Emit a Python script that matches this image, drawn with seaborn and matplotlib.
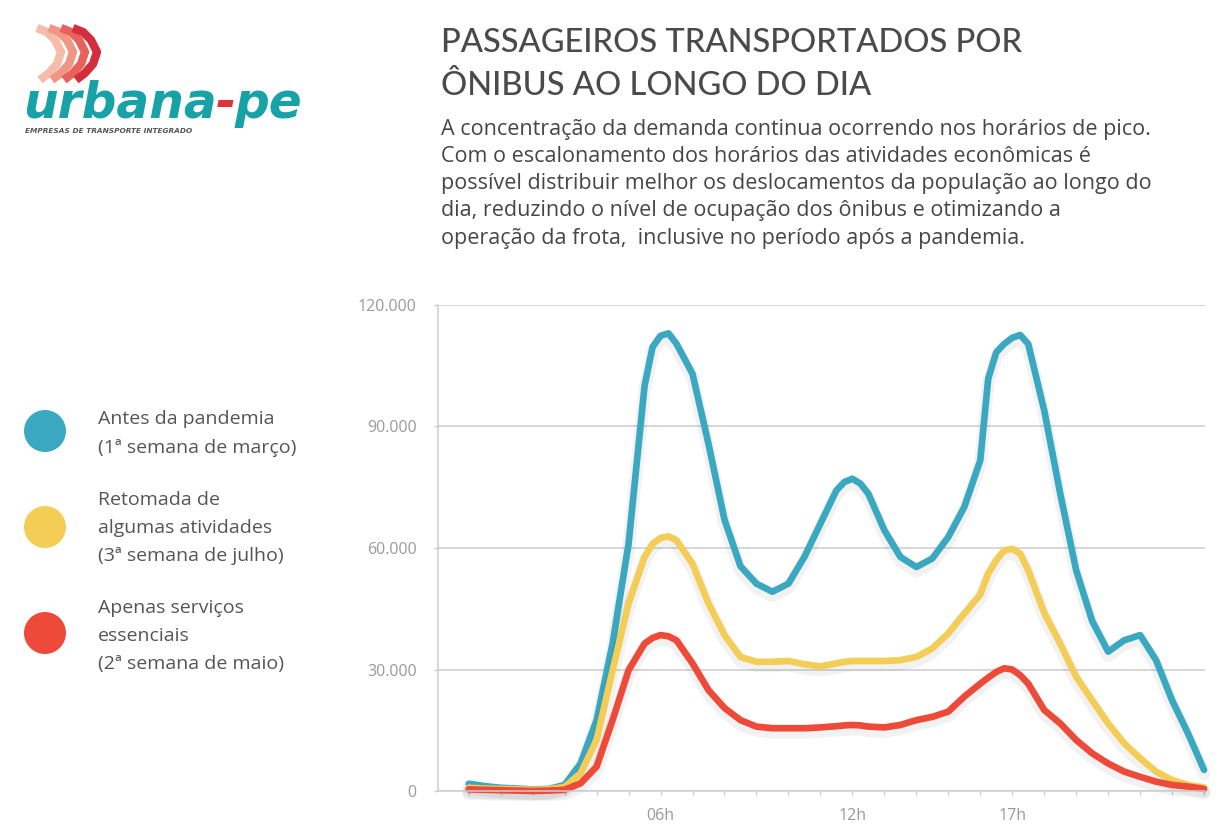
import numpy as np
import pandas as pd
import matplotlib
matplotlib.use("Agg")
import matplotlib.pyplot as plt
import seaborn as sns
from matplotlib.patches import Circle
from matplotlib.ticker import FuncFormatter
import matplotlib.patheffects as pe

# ---------------- data ----------------
hours = [0, 0.5, 1, 1.5, 2, 2.5, 3, 3.5, 4, 4.5, 5, 5.5,
         5.75, 6, 6.25, 6.5,
         7, 7.5, 8, 8.5, 9, 9.5, 10, 10.5, 11, 11.5,
         11.75, 12, 12.25,
         12.5, 13, 13.5, 14, 14.5, 15, 15.5, 16,
         16.25, 16.5, 16.75, 17, 17.25, 17.5,
         18, 18.5, 19, 19.5, 20, 20.5, 21, 21.5, 22, 22.5, 23]

antes = [1800, 1200, 800, 600, 400, 500, 1500, 6800, 17500, 36400, 61000, 100000,
         109600, 112400, 113000, 110400,
         103000, 85700, 67000, 55500, 51200, 49200, 51200, 57800, 66000, 74200,
         76300, 77100, 75900,
         73400, 64400, 57800, 55300, 57400, 62700, 70100, 81600,
         101800, 108300, 110400, 111900, 112600, 110400,
         94000, 73500, 54500, 42000, 34400, 37200, 38500, 32300, 22400, 14200, 5200]

retomada = [800, 600, 500, 400, 300, 400, 1000, 4400, 12600, 29800, 46300, 57800,
            61000, 62500, 62900, 61900,
            56100, 46300, 38500, 33100, 31900, 31900, 32100, 31300, 30800, 31500,
            31900, 32100, 32100,
            32100, 32100, 32300, 33100, 35200, 38900, 43800, 48500,
            53700, 57000, 59400, 59800, 58600, 54500,
            44000, 36400, 28200, 22400, 16700, 11800, 8100, 4800, 2700, 1500, 900]

essenciais = [400, 300, 200, 100, 0, 100, 300, 1900, 6000, 17500, 29800, 36400,
              37800, 38500, 38200, 37200,
              31500, 24900, 20500, 17500, 15900, 15500, 15500, 15500, 15700, 16000,
              16200, 16300, 16200,
              15900, 15700, 16300, 17500, 18300, 19600, 23300, 26500,
              28000, 29400, 30300, 30000, 28600, 26500,
              20000, 16700, 12600, 9300, 6800, 4800, 3500, 2300, 1500, 1100, 500]

series_names = ["Antes da pandemia", "Retomada de algumas atividades",
                "Apenas serviços essenciais"]
series_colors = ["#3aa8c0", "#f3cd55", "#ee4a3a"]

legend_lines = [["Antes da pandemia", "(1ª semana de março)"],
                ["Retomada de", "algumas atividades", "(3ª semana de julho)"],
                ["Apenas serviços", "essenciais", "(2ª semana de maio)"]]

y_ticks = [0, 30000, 60000, 90000, 120000]
x_tick_hours = list(range(24))
x_tick_labels = {6: "06h", 12: "12h", 17: "17h"}

title_lines = ["PASSAGEIROS TRANSPORTADOS POR", "ÔNIBUS AO LONGO DO DIA"]
body_lines = ["A concentração da demanda continua ocorrendo nos horários de pico.",
              "Com o escalonamento dos horários das atividades econômicas é",
              "possível distribuir melhor os deslocamentos da população ao longo do",
              "dia, reduzindo o nível de ocupação dos ônibus e otimizando a",
              "operação da frota,  inclusive no período após a pandemia."]

df = pd.DataFrame({
    "hora": hours * 3,
    "passageiros": antes + retomada + essenciais,
    "serie": [series_names[0]] * len(hours) + [series_names[1]] * len(hours)
             + [series_names[2]] * len(hours),
})

# ---------------- style ----------------
sns.set_theme(style="white")
plt.rcParams["font.family"] = ["Lato", "DejaVu Sans"]
body_font = ["Open Sans", "DejaVu Sans"]

W, H = 1224, 840
fig = plt.figure(figsize=(W / 100, H / 100), dpi=100)
fig.patch.set_facecolor("white")

# overlay (pixel coordinates) for texts, legend, logo
ov = fig.add_axes([0, 0, 1, 1])
ov.set_xlim(0, W)
ov.set_ylim(H, 0)
ov.axis("off")
ov.patch.set_alpha(0)

# main chart
ax_l, ax_r, ax_t, ax_b = 437.7, 1205, 305, 791
ax = fig.add_axes([ax_l / W, 1 - ax_b / H, (ax_r - ax_l) / W, (ax_b - ax_t) / H])
ax.patch.set_alpha(0)

sns.lineplot(data=df, x="hora", y="passageiros", hue="serie",
             hue_order=series_names, palette=series_colors, linewidth=4.8,
             legend=False, estimator=None, ax=ax)

for ln in ax.lines:
    ln.set_solid_joinstyle("round")
    ln.set_solid_capstyle("round")
    ln.set_clip_on(False)
    ln.set_path_effects([pe.SimpleLineShadow(offset=(0, -3), shadow_color="black",
                                             alpha=0.05, linewidth=9),
                         pe.Normal()])

ax.set_xlim(-0.97, 23.03)
ax.set_ylim(0, 120000)
ax.set_yticks(y_ticks)
ax.yaxis.set_major_formatter(FuncFormatter(lambda v, p: f"{int(v):,}".replace(",", ".")))
ax.set_xticks(x_tick_hours)
ax.set_xticklabels([x_tick_labels.get(h, "") for h in x_tick_hours])
ax.set_xlabel("")
ax.set_ylabel("")

grid_c = "#cdcdcd"
ax.grid(axis="y", color=grid_c, linewidth=1.1)
ax.grid(axis="x", visible=False)
ax.set_axisbelow(True)
for s in ["top", "right"]:
    ax.spines[s].set_visible(False)
for s in ["left", "bottom"]:
    ax.spines[s].set_color(grid_c)
    ax.spines[s].set_linewidth(1.1)

ax.tick_params(axis="y", length=3, width=1, color=grid_c, pad=12,
               labelsize=11.5, labelcolor="#9a9a9a", left=True)
ax.tick_params(axis="x", length=3, width=1, color=grid_c, pad=9,
               labelsize=11.5, labelcolor="#9a9a9a", bottom=True)
for lab in ax.get_yticklabels() + ax.get_xticklabels():
    lab.set_family(body_font)

# ---------------- title & body ----------------
title_c = "#4a4a4a"
ov.text(441, 52, title_lines[0], fontsize=23.5, color=title_c, va="baseline",
        ha="left", fontweight="medium")
ov.text(441, 95, title_lines[1], fontsize=23.5, color=title_c, va="baseline",
        ha="left", fontweight="medium")
body_y = [135, 162, 189, 216, 244]
for t, y in zip(body_lines, body_y):
    ov.text(441, y, t, fontsize=15.5, color="#464646", va="baseline", ha="left",
            family=body_font)

# ---------------- legend ----------------
legend_cy = [431, 527, 633]
legend_text_y = [[424, 453], [505, 533, 561], [613, 641, 669]]
for c, cy, lines, ys in zip(series_colors, legend_cy, legend_lines, legend_text_y):
    ov.add_patch(Circle((45, cy), 21, facecolor=c, edgecolor="none"))
    for t, y in zip(lines, ys):
        ov.text(98, y, t, fontsize=14, color="#555555", va="baseline", ha="left",
                family=body_font)

# ---------------- logo ----------------
chev_cols = ["#f5bcab", "#ef9684", "#e6625a", "#d42d3c"]
for i, cc in enumerate(chev_cols):
    x0 = 37 + i * 12
    ov.plot([x0, x0 + 10, x0 + 18, x0 + 24, x0 + 20, x0 + 12, x0 + 3],
            [28, 32, 40, 52, 64, 73, 80], color=cc, linewidth=6,
            solid_capstyle="butt", solid_joinstyle="round")

teal = "#17a2a8"
logo_kw = dict(fontsize=35, fontweight="bold", fontstyle="oblique",
               va="baseline", ha="left", family=["DejaVu Sans"])
t1 = ov.text(23, 118, "urbana", color=teal, **logo_kw)
fig.canvas.draw()
bb = t1.get_window_extent().transformed(ov.transData.inverted())
t2 = ov.text(bb.x1 - 1, 118, "-", color="#e03038", **logo_kw)
fig.canvas.draw()
bb2 = t2.get_window_extent().transformed(ov.transData.inverted())
ov.text(bb2.x1 - 1, 118, "pe", color=teal, **logo_kw)
ov.text(25, 133, "EMPRESAS DE TRANSPORTE INTEGRADO", fontsize=5.3, color="#555555",
        fontweight="bold", fontstyle="oblique", va="baseline", ha="left",
        family=["DejaVu Sans"])

fig.savefig("out.png", dpi=100, facecolor="white")
